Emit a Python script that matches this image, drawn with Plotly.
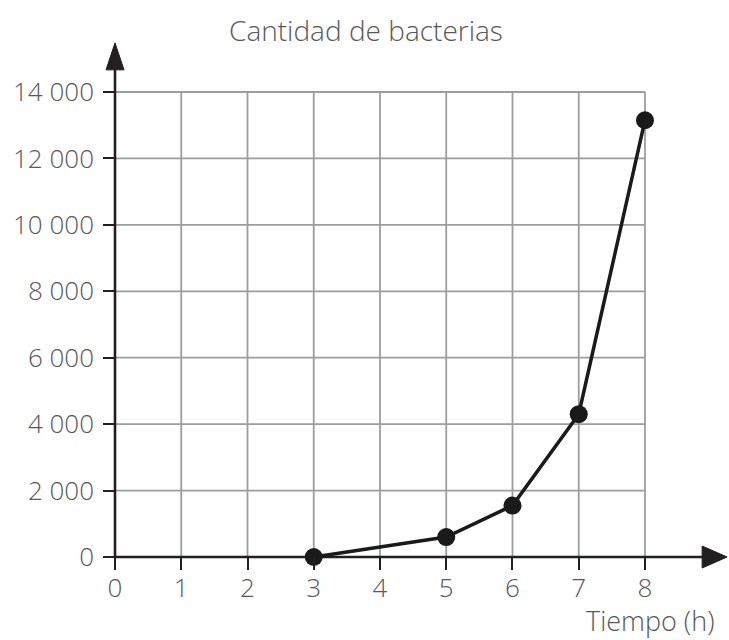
import plotly.graph_objects as go

# ---- data ----
hours = [3, 5, 6, 7, 8]
bacteria = [0, 600, 1550, 4300, 13150]

x_ticks = [0, 1, 2, 3, 4, 5, 6, 7, 8]
x_tick_labels = ["0", "1", "2", "3", "4", "5", "6", "7", "8"]
y_ticks = [0, 2000, 4000, 6000, 8000, 10000, 12000, 14000]
y_tick_labels = ["0", "2 000", "4 000", "6 000", "8 000", "10 000", "12 000", "14 000"]

title_text = "Cantidad de bacterias"
x_label = "Tiempo (h)"

# ---- style ----
FONT = "Open Sans"
TEXT_COLOR = "#58595b"
AXIS_COLOR = "#231f20"
GRID_COLOR = "#9d9d9d"

x_max, y_max = 8, 14000
x_tip, y_tip = 9.24, 15480

fig = go.Figure()

fig.add_trace(go.Scatter(
    x=hours, y=bacteria, mode="lines+markers",
    line=dict(color="#1a1a1a", width=3.5),
    marker=dict(color="#1a1a1a", size=18),
    cliponaxis=False, showlegend=False, hoverinfo="x+y",
))

shapes = []
# grid
for xv in x_ticks[1:]:
    shapes.append(dict(type="line", xref="x", yref="y", x0=xv, x1=xv, y0=0, y1=y_max,
                       line=dict(color=GRID_COLOR, width=1.8), layer="below"))
for yv in y_ticks[1:]:
    shapes.append(dict(type="line", xref="x", yref="y", x0=0, x1=x_max, y0=yv, y1=yv,
                       line=dict(color=GRID_COLOR, width=1.8), layer="below"))
# axis lines
shapes.append(dict(type="line", xref="x", yref="y", x0=0, x1=x_tip - 0.2, y0=0, y1=0,
                   line=dict(color=AXIS_COLOR, width=2.6), layer="below"))
shapes.append(dict(type="line", xref="x", yref="y", x0=0, x1=0, y0=0, y1=y_tip - 600,
                   line=dict(color=AXIS_COLOR, width=2.6), layer="below"))
# arrow heads
shapes.append(dict(type="path", xref="x", yref="y", xsizemode="pixel", ysizemode="pixel",
                   xanchor=0, yanchor=y_tip, path="M0,0 L-9,-27 L9,-27 Z",
                   fillcolor=AXIS_COLOR, line=dict(color=AXIS_COLOR, width=1)))
shapes.append(dict(type="path", xref="x", yref="y", xsizemode="pixel", ysizemode="pixel",
                   xanchor=x_tip, yanchor=0, path="M0,0 L-25,11 L-25,-11 Z",
                   fillcolor=AXIS_COLOR, line=dict(color=AXIS_COLOR, width=1)))

fig.update_layout(
    width=729, height=640,
    margin=dict(l=103, r=1, t=40, b=70),
    paper_bgcolor="white", plot_bgcolor="white",
    font=dict(family=FONT, color=TEXT_COLOR),
    title=dict(text=title_text, x=0.502, xanchor="center", y=1 - 31 / 640, yanchor="middle",
               xref="container", yref="container",
               font=dict(family=FONT, size=28, color=TEXT_COLOR, weight=300)),
    shapes=shapes,
    annotations=[dict(text=x_label, xref="paper", yref="paper", x=0.9824, xanchor="right",
                      y=-0.096, yanchor="middle", showarrow=False,
                      font=dict(family=FONT, size=27, color=TEXT_COLOR, weight=300))],
)

fig.update_xaxes(
    range=[-0.1811, 9.253], showgrid=False, zeroline=False, showline=False,
    tickmode="array", tickvals=x_ticks, ticktext=x_tick_labels,
    ticks="inside", ticklen=13, tickwidth=2.4, tickcolor=AXIS_COLOR,
    tickfont=dict(family=FONT, size=26, color=TEXT_COLOR, weight=300),
    fixedrange=True,
)
fig.update_yaxes(
    range=[-391.4, 15566], showgrid=False, zeroline=False, showline=False,
    tickmode="array", tickvals=y_ticks, ticktext=y_tick_labels,
    ticks="inside", ticklen=12, tickwidth=2.4, tickcolor=AXIS_COLOR,
    ticklabelstandoff=8,
    tickfont=dict(family=FONT, size=26, color=TEXT_COLOR, weight=300),
    fixedrange=True,
)

fig.write_html(
    "out.html",
    config={"displayModeBar": False},
    post_script="document.body.style.margin='0';document.body.style.overflow='hidden';",
)
